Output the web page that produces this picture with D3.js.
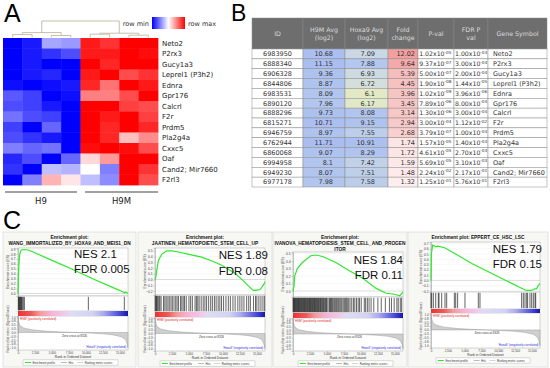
<!DOCTYPE html>
<html lang="en">
<head>
<meta charset="utf-8">
<script src="https://d3js.org/d3.v7.min.js"></script>
<style>
  body { margin: 0; background: #fff; }
  svg text { font-family: "DejaVu Sans", Verdana, sans-serif; }
  svg .gsea text { font-family: "Liberation Sans", Arial, sans-serif; }
</style>
</head>
<body>
<div id="chart"></div>
<script>

// ---------- data: panel A (heatmap, row scaled) ----------
const genes = ["Neto2","P2rx3","Gucy1a3","Leprel1 (P3h2)","Ednra","Gpr176","Calcrl","F2r","Prdm5","Pla2g4a","Cxxc5","Oaf","Cand2; Mir7660","F2rl3"];
const samples = ["H9_1","H9_2","H9_3","H9_4","H9M_1","H9M_2","H9M_3","H9M_4"];
const heatValues = [
  [-1.0,-0.9,-0.35,-0.4, 0.9,0.8,1.0,1.0],
  [-1.0,-0.9,-0.8,-0.7, 0.9,0.9,1.0,0.95],
  [-1.0,-0.9,-1.0,-1.0, 1.0,0.85,1.0,1.0],
  [-1.0,-0.9,-0.85,-1.0, 0.9,1.0,0.7,0.8],
  [-0.95,-1.0,-0.95,-0.9, 0.85,0.55,1.0,0.9],
  [-0.65,-0.75,-1.0,-0.95, 0.5,0.5,0.7,1.0],
  [-0.7,-0.75,-0.9,-1.0, 1.0,1.0,0.75,0.7],
  [-0.55,-0.7,-0.75,-1.0, 1.0,0.9,1.0,0.75],
  [-0.75,-1.0,-0.6,-1.0, 1.0,0.85,1.0,0.85],
  [-0.7,-0.8,-0.9,-1.0, 1.0,0.85,0.25,0.45],
  [-0.5,-0.6,-0.55,-1.0, 0.95,1.0,0.95,0.7],
  [-0.85,-0.7,-1.0,-0.6, 0.15,0.4,1.0,1.0],
  [-0.8,-1.0,-0.25,-0.3, 0.0,-0.5,1.0,0.8],
  [-1.0,-0.5,0.3,0.1, -0.25,-0.45,1.0,0.7]
];
const groups = ["H9","H9M"];
// column dendrogram merges (height 0..1)
const dendroMerges = [
  {id:"a", left:"H9_1", right:"H9_2", h:0.18},
  {id:"b", left:"H9_3", right:"H9_4", h:0.12},
  {id:"c", left:"H9M_1", right:"H9M_2", h:0.2},
  {id:"d", left:"H9M_3", right:"H9M_4", h:0.14},
  {id:"e", left:"a", right:"b", h:0.3},
  {id:"f", left:"c", right:"d", h:0.26},
  {id:"root", left:"e", right:"f", h:1.0}
];

// ---------- data: panel B (table) ----------
const tableHeaders = [["ID"],["H9M Avg","(log2)"],["Hoxa9 Avg","(log2)"],["Fold","change"],["P-val"],["FDR P","val"],["Gene Symbol"]];
const probeIds = ["6983950","6888340","6906328","6844806","6983531","6890120","6888296","6815271","6946759","6762944","6860068","6994958","6949230","6977178"];
const h9mAvg = [10.68,11.15,9.36,8.87,8.09,7.96,9.73,10.71,8.97,11.71,9.07,8.1,8.07,7.98];
const hoxa9Avg = [7.09,7.88,6.93,6.72,6.1,6.17,8.08,9.15,7.55,10.91,8.29,7.42,7.51,7.58];
const foldChange = [12.02,9.64,5.39,4.45,3.96,3.45,3.14,2.94,2.68,1.74,1.72,1.59,1.48,1.32];
const pVal = [["1.02","-05"],["9.37","-07"],["5.00","-07"],["1.90","-08"],["1.02","-09"],["7.89","-06"],["1.30","-06"],["3.00","-04"],["3.79","-07"],["1.57","-05"],["4.61","-05"],["5.69","-05"],["2.24","-02"],["1.25","-01"]];
const fdrVal = [["1.00","-03"],["3.00","-04"],["2.00","-04"],["1.44","-05"],["3.96","-06"],["8.00","-04"],["3.00","-04"],["1.12","-02"],["1.00","-04"],["1.40","-03"],["2.70","-03"],["3.10","-03"],["2.17","-01"],["5.76","-01"]];
const geneSymbols = ["Neto2","P2rx3","Gucy1a3","Leprel1 (P3h2)","Ednra","Gpr176","Calcrl","F2r","Prdm5","Pla2g4a","Cxxc5","Oaf","Cand2; Mir7660","F2rl3"];

// ---------- data: panel C (GSEA) ----------
const gseaTitles = [
  ["Enrichment plot:","WANG_IMMORTALIZED_BY_HOXA9_AND_MEIS1_DN"],
  ["Enrichment plot:","JAATINEN_HEMATOPOIETIC_STEM_CELL_UP"],
  ["Enrichment plot:","IVANOVA_HEMATOPOIESIS_STEM_CELL_AND_PROGEN","ITOR"],
  ["Enrichment plot: EPPERT_CE_HSC_LSC"]
];
const nesValues = ["2.1","1.89","1.84","1.79"];
const fdrValues = ["0.005","0.08","0.11","0.15"];
const rankTicks = [0,2500,5000,7500,10000,12500,15000];
const es1 = [[0,0],[60,0.35],[150,0.62],[250,0.78],[350,0.85],[500,0.88],[900,0.89],[1500,0.88],[1900,0.86],[5000,0.67],[8000,0.49],[11000,0.3],[14000,0.12],[15500,0.03],[15700,0.01],[15850,0.03],[16000,0.02],[16200,0.0]];
const es2 = [[0,0],[100,0.03],[490,0.33],[980,0.44],[1720,0.5],[2500,0.5],[3440,0.48],[5000,0.44],[6870,0.39],[8500,0.32],[9820,0.25],[11780,0.11],[13000,-0.02],[13750,-0.11],[14480,-0.19],[14800,-0.19],[15220,-0.18],[15500,-0.17],[15700,-0.14],[16000,-0.09],[16200,-0.04]];
const es3 = [[0,0],[150,0.06],[250,0.2],[640,0.3],[1380,0.38],[2620,0.47],[3360,0.48],[4350,0.46],[6320,0.38],[8300,0.27],[10280,0.17],[12250,0.035],[13730,-0.03],[14720,-0.04],[15200,-0.05],[15700,-0.065],[15960,-0.04],[16200,-0.01]];
const es4 = [[0,0],[50,0.5],[250,0.67],[760,0.64],[1010,0.65],[2020,0.62],[3540,0.51],[6070,0.32],[8600,0.16],[11130,0.0],[13160,-0.13],[14170,-0.19],[14930,-0.19],[15430,-0.16],[15690,-0.16],[15940,-0.1],[16200,-0.06]];
const hits1 = [60,130,200,280,350,440,520,640,780,940,10360,15660];
const hits2 = [30,120,220,330,450,600,720,900,1250,1450,1650,1900,2100,2350,2550,2800,3050,3250,3450,3750,3950,4150,4350,4600,5000,5250,5500,5900,6100,6300,6500,6800,7100,7350,7600,7900,8200,8450,8750,9000,9300,9550,9800,10100,10450,10800,11100,11480,11800,12200,12500,12800,13100,13500,13800,14050,14500,14800,15000,15300,15600,15900,16150];
const hits3 = [20,90,160,240,310,400,470,560,640,720,810,900,980,1070,1150,1260,1340,1430,1520,1600,1700,1790,1880,1960,2060,2150,2240,2330,2430,2520,2600,2700,2790,2890,2980,3070,3170,3260,3350,3450,3560,3650,3740,3850,3950,4060,4150,4260,4380,4470,4580,4700,4810,4930,5040,5290,5400,5530,5650,5780,5900,6050,6180,6320,6450,6600,6740,6900,7050,7200,7380,7550,7700,7850,8000,8200,8400,8650,8900,9100,9350,9600,9800,10050,10500,10700,10950,11200,11500,11900,12500,13000,13600,14200,14500,14900,15300,15500,15800,16000];
const hits4 = [0,100,350,700,1090,1190,1590,2080,2330,3470,3670,3960,5050,7030,7280,13470,13720,13970,14220,14360,14710,14960,15210,15460,15560];
const metricCurve = [[0,1.0],[100,0.7],[300,0.45],[800,0.3],[2000,0.18],[4000,0.09],[6000,0.04],[8300,0],[10500,-0.04],[12500,-0.09],[14000,-0.16],[15200,-0.28],[15800,-0.45],[16050,-0.7],[16200,-1.0]];
const zeroCross = 8326;
const rankMax = 16200;

// ---------- svg ----------
const svg = d3.select("#chart").append("svg").attr("width", 550).attr("height", 368);
const defs = svg.append("defs");

// panel letters
svg.append("text").attr("x", 4).attr("y", 22).attr("font-size", 25)
  .style("font-family", "Liberation Sans, Arial").text("A");
svg.append("text").attr("x", 231).attr("y", 21).attr("font-size", 23)
  .style("font-family", "Liberation Sans, Arial").text("B");
svg.append("text").attr("x", 3).attr("y", 229).attr("font-size", 25)
  .style("font-family", "Liberation Sans, Arial").text("C");

// ================= Panel A =================
const heatColor = d3.scaleLinear().domain([-1, 0, 1]).range(["#0000ff", "#ffffff", "#ff0000"]);
const hx = d3.scaleBand().domain(samples).range([3, 158]);
const hy = d3.scaleBand().domain(genes).range([38, 185]);

const cells = [];
genes.forEach((gn, i) => samples.forEach((s, j) => cells.push({gene: gn, sample: s, v: heatValues[i][j]})));

svg.append("g").selectAll("rect").data(cells).join("rect")
  .attr("x", d => hx(d.sample))
  .attr("y", d => hy(d.gene))
  .attr("width", hx.bandwidth() + 0.4)
  .attr("height", hy.bandwidth() + 0.4)
  .attr("fill", d => heatColor(d.v));

svg.append("g").selectAll("text").data(genes).join("text")
  .attr("x", 162)
  .attr("y", d => hy(d) + hy.bandwidth() / 2 + 2.4)
  .attr("font-size", 7)
  .attr("fill", "#222")
  .text(d => d);

// dendrogram
const dy = d3.scaleLinear().domain([0, 1]).range([37.5, 21]);
const nodePos = {};
samples.forEach(s => nodePos[s] = {x: hx(s) + hx.bandwidth() / 2, h: 0});
dendroMerges.forEach(m => {
  const L = nodePos[m.left], R = nodePos[m.right];
  nodePos[m.id] = {x: (L.x + R.x) / 2, h: m.h};
  svg.append("path")
    .attr("d", `M${L.x},${dy(L.h)}V${dy(m.h)}H${R.x}V${dy(R.h)}`)
    .attr("fill", "none").attr("stroke", "#b0a58c").attr("stroke-width", 0.7);
});

// row min / row max legend
const lg = defs.append("linearGradient").attr("id", "rowGrad");
lg.selectAll("stop").data([0, 0.5, 1]).join("stop")
  .attr("offset", d => d).attr("stop-color", d => heatColor(d * 2 - 1));
svg.append("rect").attr("x", 152).attr("y", 17).attr("width", 33).attr("height", 12).attr("fill", "url(#rowGrad)");
svg.append("text").attr("x", 149).attr("y", 25.5).attr("text-anchor", "end").attr("font-size", 6.5).attr("fill", "#333").text("row min");
svg.append("text").attr("x", 188).attr("y", 25.5).attr("font-size", 6.5).attr("fill", "#333").text("row max");

// group bars
const groupSpan = {H9: [5, 77], H9M: [85, 158]};
groups.forEach(gname => {
  const [a, b] = groupSpan[gname];
  svg.append("line").attr("x1", a).attr("x2", b).attr("y1", 192).attr("y2", 192)
    .attr("stroke", "#444").attr("stroke-width", 1.2);
  svg.append("text").attr("x", (a + b) / 2).attr("y", 204).attr("text-anchor", "middle")
    .attr("font-size", 8.5).attr("fill", "#222").text(gname);
});

// ================= Panel B =================
const cols = [
  {x0: 252, x1: 303, anchor: "middle"},
  {x0: 303, x1: 345, anchor: "end", pad: 12},
  {x0: 345, x1: 388, anchor: "end", pad: 13},
  {x0: 388, x1: 418, anchor: "end", pad: 3},
  {x0: 418, x1: 454, anchor: "start", pad: 1.2},
  {x0: 454, x1: 488, anchor: "start", pad: 1},
  {x0: 488, x1: 547, anchor: "start", pad: 5}
];
const headTop = 18, headBot = 49;
const ty = d3.scaleBand().domain(d3.range(probeIds.length)).range([headBot, 187]);
const avgColor = d3.scaleLinear().domain([6.1, 6.9, 8.0, 11.7]).range(["#e3e9c4", "#cfdbe2", "#b1c5ef", "#a9bdf0"]).clamp(true);
const fcColor = d3.scaleLinear().domain([1.32, 3, 12.02]).range(["#fdeeee", "#f8c8c8", "#f29f9f"]);

const tb = svg.append("g");
// header
cols.forEach((c, i) => {
  tb.append("rect").attr("x", c.x0).attr("y", headTop).attr("width", c.x1 - c.x0).attr("height", headBot - headTop)
    .attr("fill", "#6e6e6e").attr("stroke", "#8a8a8a").attr("stroke-width", 0.5);
  const lines = tableHeaders[i];
  lines.forEach((t, k) => {
    tb.append("text").attr("x", (c.x0 + c.x1) / 2)
      .attr("y", (headTop + headBot) / 2 + 2.3 + (k - (lines.length - 1) / 2) * 8.5)
      .attr("text-anchor", "middle").attr("font-size", 6.3).attr("fill", "#dcdcdc").text(t);
  });
});

const rowsData = probeIds.map((id, i) => ({i, id, h9m: h9mAvg[i], hox: hoxa9Avg[i], fc: foldChange[i], p: pVal[i], fdr: fdrVal[i], gene: geneSymbols[i]}));
const fills = [d => "#ffffff", d => avgColor(d.h9m), d => avgColor(d.hox), d => fcColor(d.fc), d => "#ffffff", d => "#ffffff", d => "#ffffff"];

rowsData.forEach(d => {
  const y0 = ty(d.i), yb = y0 + ty.bandwidth() / 2 + 2.3;
  cols.forEach((c, k) => {
    tb.append("rect").attr("x", c.x0).attr("y", y0).attr("width", c.x1 - c.x0).attr("height", ty.bandwidth())
      .attr("fill", fills[k](d)).attr("stroke", "#8c8c8c").attr("stroke-width", 0.5);
    const tx = c.anchor === "middle" ? (c.x0 + c.x1) / 2 : c.anchor === "end" ? c.x1 - c.pad : c.x0 + c.pad;
    const t = tb.append("text").attr("x", tx).attr("y", yb).attr("text-anchor", c.anchor)
      .attr("font-size", 6.5).attr("fill", "#333");
    if (k === 0) t.text(d.id);
    else if (k === 1) t.text(d.h9m);
    else if (k === 2) t.text(d.hox);
    else if (k === 3) t.text(d.fc.toFixed(2));
    else if (k === 4 || k === 5) {
      const v = k === 4 ? d.p : d.fdr;
      t.attr("font-size", 6.2);
      t.append("tspan").text(v[0] + "x10");
      t.append("tspan").attr("dy", -2.4).attr("font-size", 4.2).text(v[1]);
    }
    else t.text(d.gene);
  });
});

// ================= Panel C =================
const rankGrad = defs.append("linearGradient").attr("id", "rankGrad");
[[0,"#ee3030"],[0.12,"#f05a5a"],[0.2,"#f49a9a"],[0.3,"#f6b3d6"],[0.42,"#f2c8e8"],[0.48,"#dedcf6"],[0.68,"#d2d2f4"],[0.78,"#a9a9ee"],[0.9,"#5a5ae0"],[1,"#1515b0"]]
  .forEach(s => rankGrad.append("stop").attr("offset", s[0]).attr("stop-color", s[1]));

const gseaLayout = [
  {bx: 3,   bw: 133, x0: 18,  x1: 128, titleY: [237, 243.5], esTop: 248, esBot: 296, hitsBot: 311, barBot: 316, metricBot: 350, esDomain: [-0.05, 0.92], nesX: 74,  nesAnchor: "start", nesY: 258, fdrY: 273},
  {bx: 138, bw: 134, x0: 155, x1: 265, titleY: [237, 243.5], esTop: 248, esBot: 295, hitsBot: 312, barBot: 317, metricBot: 351, esDomain: [-0.27, 0.55], nesX: 268, nesAnchor: "end",   nesY: 259, fdrY: 275},
  {bx: 273, bw: 134, x0: 293, x1: 403, titleY: [237, 243, 249], esTop: 252, esBot: 297, hitsBot: 313, barBot: 318, metricBot: 351, esDomain: [-0.08, 0.52], nesX: 403, nesAnchor: "end",   nesY: 264, fdrY: 279},
  {bx: 408, bw: 140, x0: 431, x1: 540, titleY: [237], esTop: 242, esBot: 292, hitsBot: 309, barBot: 313, metricBot: 348, esDomain: [-0.22, 0.73], nesX: 542, nesAnchor: "end",   nesY: 253, fdrY: 268}
];
const esCurves = [es1, es2, es3, es4];
const hitLists = [hits1, hits2, hits3, hits4];

function drawGsea(L, i) {
  const g = svg.append("g").attr("class", "gsea");
  g.append("rect").attr("x", L.bx).attr("y", 232).attr("width", L.bw).attr("height", 135)
    .attr("fill", "#f7f7f4").attr("stroke", "#d4d4d0").attr("stroke-width", 0.6);

  const x = d3.scaleLinear().domain([0, rankMax]).range([L.x0, L.x1]);
  const yEs = d3.scaleLinear().domain(L.esDomain).range([L.esBot, L.esTop]);
  const yM = d3.scaleLinear().domain([-1.15, 1.08]).range([L.metricBot, L.barBot]);
  const cx = L.bx + L.bw / 2;

  gseaTitles[i].forEach((t, k) => {
    g.append("text").attr("x", cx).attr("y", L.titleY[k] + 1.5).attr("text-anchor", "middle")
      .attr("font-size", 4.8).attr("font-weight", "bold")
      .attr("fill", "#111").text(t);
  });

  // panels
  [[L.esTop, L.esBot], [L.esBot, L.hitsBot], [L.barBot, L.metricBot]].forEach(([a, b]) => {
    g.append("rect").attr("x", L.x0).attr("y", a).attr("width", L.x1 - L.x0).attr("height", b - a)
      .attr("fill", "#fff").attr("stroke", "#a8a8a8").attr("stroke-width", 0.5);
  });

  // ES grid + axis
  const esTicks = yEs.ticks(8);
  g.append("g").selectAll("line").data(esTicks).join("line")
    .attr("x1", L.x0).attr("x2", L.x1).attr("y1", d => yEs(d)).attr("y2", d => yEs(d))
    .attr("stroke", d => d === 0 ? "#b8b8b8" : "#efefef").attr("stroke-width", 0.5);
  g.append("g").attr("transform", `translate(${L.x0},0)`)
    .call(d3.axisLeft(yEs).ticks(8).tickSize(1.5).tickPadding(1).tickFormat(d3.format(".1f")))
    .call(a => a.select(".domain").attr("stroke", "#999").attr("stroke-width", 0.5))
    .call(a => a.selectAll("line").attr("stroke", "#999").attr("stroke-width", 0.4))
    .call(a => a.selectAll("text").attr("font-size", 3.3).attr("fill", "#444"));
  g.append("text").attr("transform", `translate(${L.x0 - 9},${(L.esTop + L.esBot) / 2}) rotate(-90)`)
    .attr("text-anchor", "middle").attr("font-size", 3.4).attr("fill", "#444").text("Enrichment score (ES)");

  // ES curve
  g.append("path").datum(esCurves[i])
    .attr("d", d3.line().x(d => x(d[0])).y(d => yEs(d[1])))
    .attr("fill", "none").attr("stroke", "#2ee82e").attr("stroke-width", 1.2);

  // hits
  g.append("g").selectAll("line").data(hitLists[i]).join("line")
    .attr("x1", d => x(d)).attr("x2", d => x(d)).attr("y1", L.esBot + 0.8).attr("y2", L.hitsBot - 0.8)
    .attr("stroke", "#111").attr("stroke-opacity", 0.72).attr("stroke-width", 0.9);

  // rank colour bar
  g.append("rect").attr("x", L.x0).attr("y", L.hitsBot).attr("width", L.x1 - L.x0).attr("height", L.barBot - L.hitsBot)
    .attr("fill", "url(#rankGrad)");

  // ranked list metric
  g.append("path").datum(metricCurve)
    .attr("d", d3.area().x(d => x(d[0])).y0(yM(0)).y1(d => yM(d[1])))
    .attr("fill", "#cfcfcf").attr("stroke", "#8a8a8a").attr("stroke-width", 0.4);
  g.append("g").attr("transform", `translate(${L.x0},0)`)
    .call(d3.axisLeft(yM).tickValues([-1, -0.75, -0.5, -0.25, 0, 0.25, 0.5, 0.75, 1]).tickSize(1.5).tickPadding(1).tickFormat(d3.format(".1f")))
    .call(a => a.select(".domain").attr("stroke", "#999").attr("stroke-width", 0.5))
    .call(a => a.selectAll("line").attr("stroke", "#999").attr("stroke-width", 0.4))
    .call(a => a.selectAll("text").attr("font-size", 2.9).attr("fill", "#444"));
  g.append("text").attr("transform", `translate(${L.x0 - 9},${(L.esBot + L.metricBot) / 2 + 6}) rotate(-90)`)
    .attr("text-anchor", "middle").attr("font-size", 3.2).attr("fill", "#444").text("Ranked list metric (Signal2Noise)");
  g.append("text").attr("x", L.x0 + 1.5).attr("y", L.barBot + 3.6).attr("font-size", 3).attr("fill", "#e02020")
    .text("'H9M' (positively correlated)");
  g.append("text").attr("x", x(zeroCross)).attr("y", yM(0) + 4.5).attr("text-anchor", "middle").attr("font-size", 3)
    .attr("fill", "#333").text("Zero cross at " + zeroCross);
  g.append("text").attr("x", x(10000)).attr("y", L.metricBot - 2.5).attr("font-size", 3).attr("fill", "#2a2ae0")
    .text("'Hoxa9' (negatively correlated)");

  // x axis
  g.append("g").attr("transform", `translate(0,${L.metricBot})`)
    .call(d3.axisBottom(x).tickValues(rankTicks).tickSize(1.2).tickPadding(0.5).tickFormat(d3.format(",")))
    .call(a => a.select(".domain").remove())
    .call(a => a.selectAll("line").attr("stroke", "#999").attr("stroke-width", 0.4))
    .call(a => a.selectAll("text").attr("font-size", 2.9).attr("fill", "#444"));
  g.append("text").attr("x", (L.x0 + L.x1) / 2).attr("y", L.metricBot + 8).attr("text-anchor", "middle")
    .attr("font-size", 3.3).attr("fill", "#333").text("Rank in Ordered Dataset");

  // legend
  const ly = L.metricBot + 12.5;
  const lx0 = L.x0 + 5, lx1 = L.x1 - 10;
  g.append("rect").attr("x", lx0).attr("y", ly - 2.6).attr("width", lx1 - lx0).attr("height", 5.2)
    .attr("fill", "#fff").attr("stroke", "#aaa").attr("stroke-width", 0.4);
  const lw = lx1 - lx0;
  const items = [
    {t: "Enrichment profile", c: "#2ee82e", w: 1, f: 0.02},
    {t: "Hits", c: "#777", w: 0.5, f: 0.4},
    {t: "Ranking metric scores", c: "#aaa", w: 0.5, f: 0.57}
  ];
  items.forEach(it => {
    const sx = lx0 + lw * it.f;
    g.append("line").attr("x1", sx).attr("x2", sx + 6).attr("y1", ly).attr("y2", ly)
      .attr("stroke", it.c).attr("stroke-width", it.w);
    g.append("text").attr("x", sx + 7.5).attr("y", ly + 1).attr("font-size", 2.8).attr("fill", "#333").text(it.t);
  });

  // NES / FDR
  g.append("text").attr("x", L.nesX).attr("y", L.nesY).attr("text-anchor", L.nesAnchor)
    .attr("font-size", 11.5).attr("fill", "#111")
    .text("NES " + nesValues[i]);
  g.append("text").attr("x", L.nesX).attr("y", L.fdrY).attr("text-anchor", L.nesAnchor)
    .attr("font-size", 11.5).attr("fill", "#111")
    .text("FDR " + fdrValues[i]);
}

gseaLayout.forEach((L, i) => drawGsea(L, i));

</script>
</body>
</html>
